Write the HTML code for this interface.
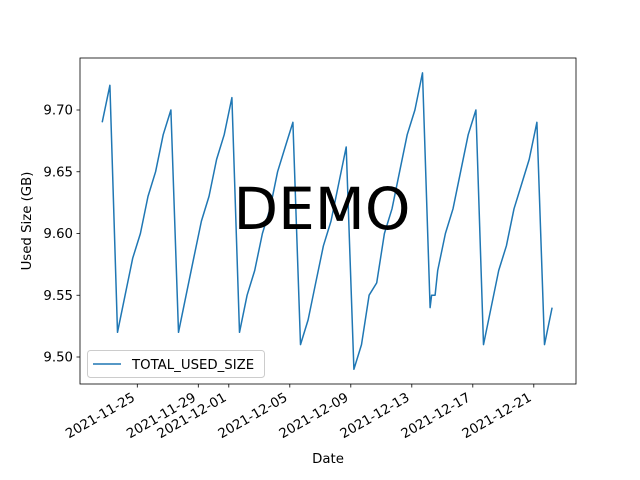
<!DOCTYPE html>
<html><head><meta charset="utf-8"><style>
body{margin:0;background:#fff}
svg{display:block;font-family:"DejaVu Sans","Liberation Sans",sans-serif}
</style></head><body>
<svg id="chart" width="640" height="480">
<rect width="640" height="480" fill="#fff"/>
<g id="plot"></g>
</svg>
<script>
const dayIndex=[0,1,2,3,4,5,6,7,8,9,10,11,12,13,14,15,16,17,18,19,20,21,22,23,24,25,26,27,28,29,30,31,32,33,34,35,36,37,38,39,40,41,42,43,43.2,43.65,44,45,46,47,48,49,50,51,52,53,54,55,56,57,58,59];
const usedSize=[9.69,9.72,9.52,9.55,9.58,9.60,9.63,9.65,9.68,9.70,
9.52,9.55,9.58,9.61,9.63,9.66,9.68,9.71,
9.52,9.55,9.57,9.60,9.62,9.65,9.67,9.69,
9.51,9.53,9.56,9.59,9.61,9.64,9.67,
9.49,9.51,9.55,9.56,9.60,9.62,9.65,9.68,9.70,9.73,
9.54,9.55,9.55,9.57,9.60,9.62,9.65,9.68,9.70,
9.51,9.54,9.57,9.59,9.62,9.64,9.66,9.69,9.51,9.54];
const xTickDays=[0,4,6,10,14,18,22,26];
const xTickLabels=["2021-11-25","2021-11-29","2021-12-01","2021-12-05","2021-12-09","2021-12-13","2021-12-17","2021-12-21"];
const yTicks=[9.50,9.55,9.60,9.65,9.70];
const startDay=-2.3, stepDay=0.5;

const L=80,R=576,T=58,B=384;
const xs=d=>137.3+d*15.25;
const ys=v=>110+(9.70-v)*1235;
const NS="http://www.w3.org/2000/svg";
const g=document.getElementById('plot');
function mk(t,a,txt){const e=document.createElementNS(NS,t);for(const k in a)e.setAttribute(k,a[k]);if(txt!=null)e.textContent=txt;g.appendChild(e);return e;}

let pts=dayIndex.map((i,k)=>xs(startDay+stepDay*i).toFixed(1)+','+ys(usedSize[k]).toFixed(1)).join(' ');
const ln=mk('polyline',{points:pts,fill:'none',stroke:'#1f77b4','stroke-width':1.5,'stroke-linejoin':'round'});



const fr=mk('rect',{x:L,y:T,width:R-L,height:B-T,fill:'none',stroke:'#000','stroke-width':0.8});



yTicks.forEach(v=>{
 const y=ys(v);
 mk('line',{x1:L-3.5,x2:L,y1:y,y2:y,stroke:'#000','stroke-width':0.8});
 const t=mk('text',{x:L-7,y:y+4.5,'text-anchor':'end','font-size':13.3},v.toFixed(2));
 
 
});
xTickDays.forEach((d,k)=>{
 const x=xs(d);
 mk('line',{x1:x,x2:x,y1:B,y2:B+3.5,stroke:'#000','stroke-width':0.8});
 const bx=x-1.5, by=B+16;
 const t=mk('text',{x:bx,y:by,'text-anchor':'end','font-size':13.3,transform:`rotate(-30 ${bx} ${by})`},xTickLabels[k]);
 
 
});
const xl=mk('text',{x:328,y:463,'text-anchor':'middle','font-size':13.3},'Date');


const yl=mk('text',{x:31,y:221,'text-anchor':'middle','font-size':13.3,transform:'rotate(-90 31 221)'},'Used Size (GB)');



const lg=mk('rect',{x:87.5,y:350.5,width:177,height:27,rx:3,fill:'#fff','fill-opacity':0.8,stroke:'#ccc'});


mk('line',{x1:93,x2:121,y1:364,y2:364,stroke:'#1f77b4','stroke-width':1.5});
const le=mk('text',{x:132,y:369,'font-size':13.3},'TOTAL_USED_SIZE');



const wm=mk('text',{x:322,y:229,'text-anchor':'middle','font-size':58},'DEMO');


</script>
</body></html>
